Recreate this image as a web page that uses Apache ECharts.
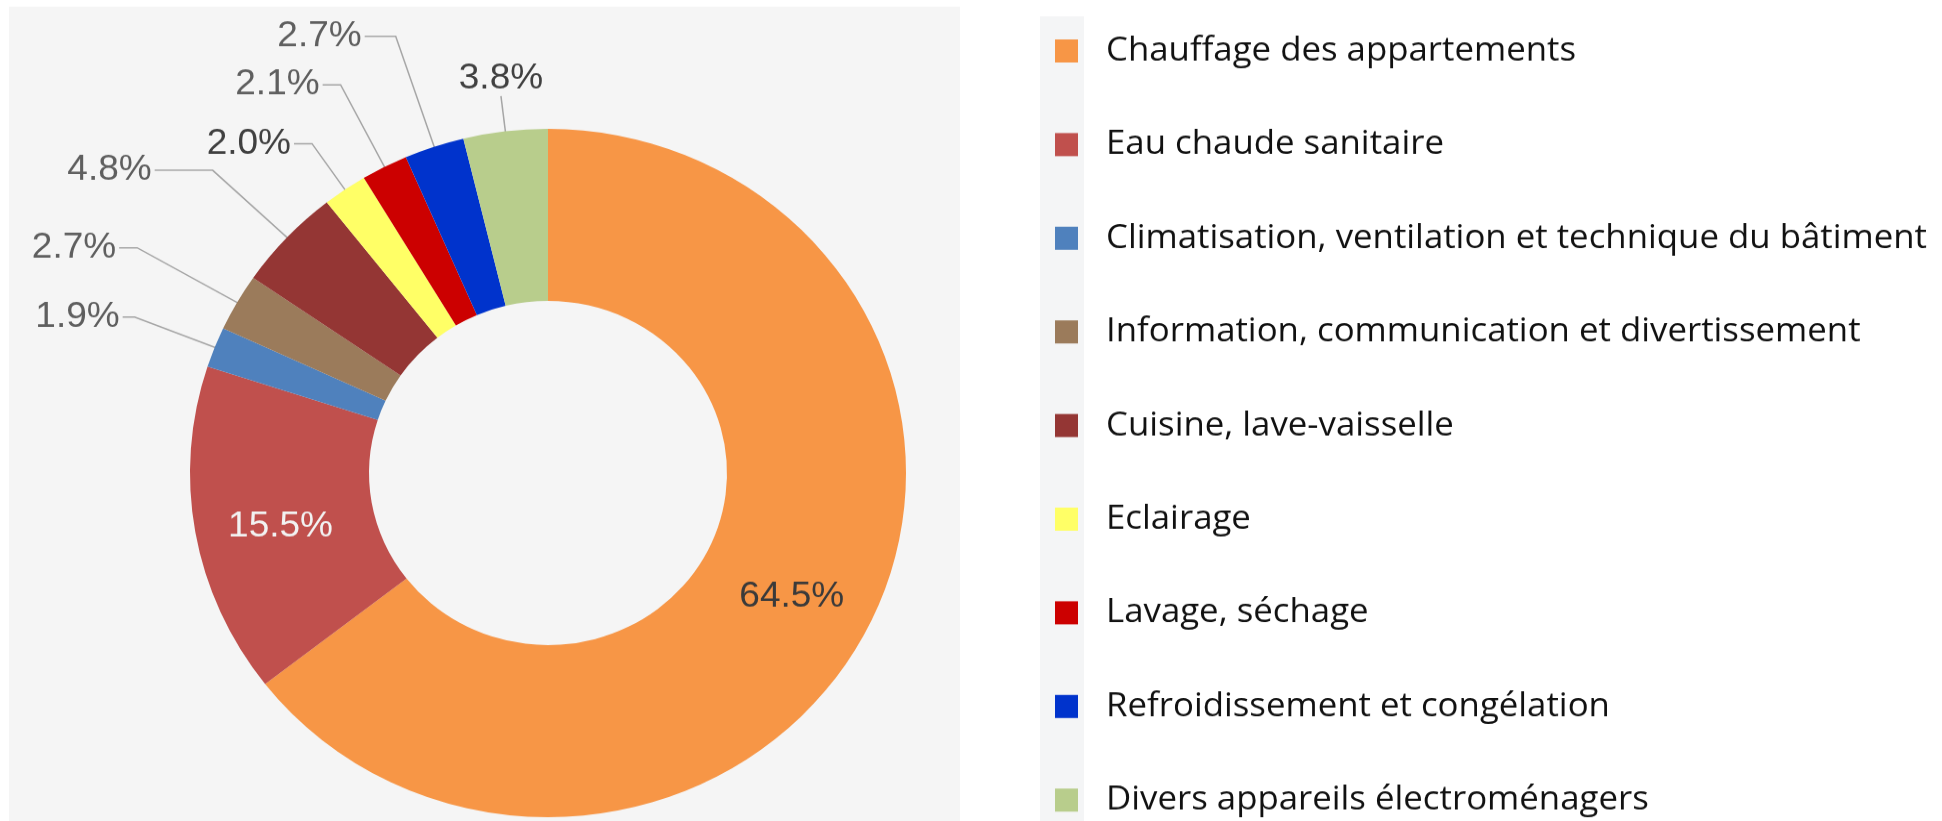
<!DOCTYPE html>
<html>
<head>
<meta charset="utf-8">
<title>Consommation d'énergie des ménages</title>
<script src="https://cdn.jsdelivr.net/npm/echarts@6/dist/echarts.min.js"></script>
<style>
	html, body { margin: 0; padding: 0; background: #fff; overflow: hidden; }
	/* the source picture is slightly squeezed vertically, so the chart is drawn taller and scaled */
	#chart { width: 1942px; height: 854px; transform: scaleY(0.9614); transform-origin: 0 0; }
</style>
</head>
<body>
<div id="chart"></div>
<script>
var categories = [
	'Chauffage des appartements',
	'Eau chaude sanitaire',
	'Climatisation, ventilation et technique du bâtiment',
	'Information, communication et divertissement',
	'Cuisine, lave-vaisselle',
	'Eclairage',
	'Lavage, séchage',
	'Refroidissement et congélation',
	'Divers appareils électroménagers'
];
var shares = [64.5, 15.5, 1.9, 2.7, 4.8, 2.0, 2.1, 2.7, 3.8]; // %
var colors = ['#F79646', '#C0504D', '#4F81BD', '#9B7B5B', '#943634', '#FFFF66', '#CC0000', '#0033CC', '#B8CD8C'];

var CX = 548, CY = 492, R_IN = 179, R_OUT = 358;
var R_MID = (R_IN + R_OUT) / 2;

// leader line styling per slice (radial part / horizontal part), like the hand-placed labels of the original
var leaderLen = [0, 0, 86, 115, 102, 58, 96, 121, 37];
var leaderLen2 = [0, 0, 12, 18, 58, 18, 18, 31, 0];
var CENTERED = 8; // this label sits on top of its line

var chart = echarts.init(document.getElementById('chart'));

var data = categories.map(function (name, i) {
	var item = {
		name: name,
		value: shares[i],
		itemStyle: { color: colors[i] },
		labelLine: { length: leaderLen[i], length2: leaderLen2[i] }
	};
	if (i === 0) item.label = { position: 'inside', color: '#3A3A3A', offset: [0, 9] };
	if (i === 1) item.label = { position: 'inside', color: '#F2F2F2', offset: [0, 9] };
	if (i === 5 || i === 8) item.label = { color: '#404040' };
	return item;
});

var option = {
	backgroundColor: '#ffffff',
	animation: false,
	graphic: [
		{ type: 'rect', z: 0, shape: { x: 9, y: 7, width: 951, height: 860 }, style: { fill: '#F5F5F5' } },
		{ type: 'rect', z: 0, shape: { x: 1040, y: 17, width: 44, height: 860 }, style: { fill: '#F4F5F6' } }
	],
	legend: {
		orient: 'vertical',
		left: 1050,
		top: 20,
		height: 900,
		itemWidth: 23,
		itemHeight: 24,
		itemGap: 41.4,
		icon: 'rect',
		selectedMode: false,
		textStyle: {
			fontFamily: 'Open Sans',
			fontSize: 34.8,
			color: '#111',
			lineHeight: 40,
			padding: [16, 0, 0, 23]
		},
		data: categories
	},
	series: [{
		type: 'pie',
		center: [CX, CY],
		radius: [R_IN, R_OUT],
		startAngle: 90,
		clockwise: true,
		avoidLabelOverlap: false,
		data: data,
		label: {
			show: true,
			position: 'outside',
			fontFamily: 'Liberation Sans',
			fontSize: 37,
			color: '#5F5F5F',
			distanceToLabelLine: 3,
			formatter: function (p) { return p.value.toFixed(1) + '%'; }
		},
		labelLine: {
			show: true,
			length: 90,
			length2: 18,
			lineStyle: { color: '#A6A6A6', width: 1.5 }
		},
		labelLayout: function (p) {
			if (!p.labelLinePoints) return;
			var pts = p.labelLinePoints.map(function (q) { return q.slice(); });
			var f = R_MID / R_OUT;
			pts[0] = [CX + (pts[0][0] - CX) * f, CY + (pts[0][1] - CY) * f];
			if (p.dataIndex === CENTERED) {
				pts[2] = pts[1].slice();
				return {
					x: pts[1][0],
					y: pts[1][1],
					align: 'center',
					verticalAlign: 'bottom',
					labelLinePoints: pts
				};
			}
			return { labelLinePoints: pts };
		},
		emphasis: { disabled: true }
	}]
};

chart.setOption(option);
</script>
</body>
</html>
